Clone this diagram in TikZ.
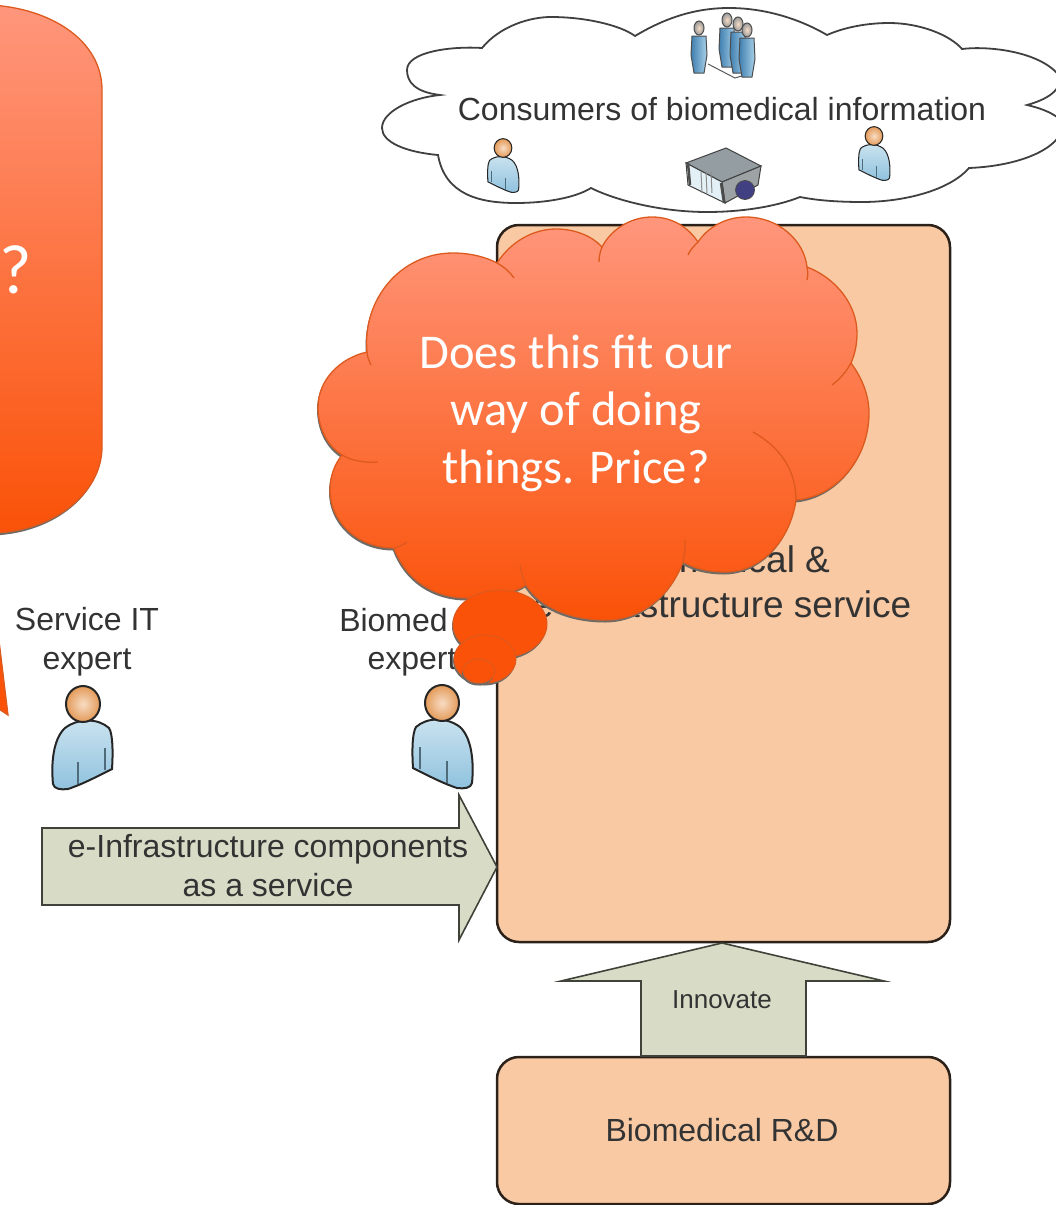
\documentclass[tikz,border=0pt]{standalone}
\usepackage{fontspec}
\setmainfont{Liberation Sans}
\newfontfamily\bubblefont{Carlito}
\usetikzlibrary{shadows}
\definecolor{boxfill}{HTML}{F8C9A3}
\definecolor{boxline}{HTML}{2B2119}
\definecolor{arrowfill}{HTML}{D8DCC6}
\definecolor{arrowline}{HTML}{3F4238}
\definecolor{inktext}{HTML}{333333}
\definecolor{bubbletop}{HTML}{FF967C}
\definecolor{bubblelow}{HTML}{FA5208}
\definecolor{bubbleline}{HTML}{DD5A1E}
\definecolor{shadowgrey}{HTML}{6E6A66}
\definecolor{bodylight}{HTML}{CBE3EF}
\definecolor{bodydark}{HTML}{8FC2DE}
\definecolor{figuredark}{HTML}{3F7FB0}
\definecolor{figurelight}{HTML}{A8D0E8}
\definecolor{headlight}{HTML}{F8DCC4}
\definecolor{headdark}{HTML}{E39A58}
\tikzset{
  labeltext/.style={font=\fontsize{32}{39}\selectfont, text=inktext, align=center, inner sep=0pt},
  bubbletext/.style={font=\bubblefont\fontsize{48.5}{57.5}\selectfont, text=white, align=center, inner sep=0pt},
  servicebox/.style={draw=boxline, line width=2.5pt, fill=boxfill, rounded corners=22pt, inner sep=0pt, outer sep=0pt, anchor=north west},
  blockarrow/.style={draw=arrowline, line width=1.6pt, fill=arrowfill, line join=miter},
  bubbleshadow/.style={drop shadow={shadow xshift=-1pt, shadow yshift=-2.5pt, opacity=1, fill=shadowgrey}},
  bubble/.style={draw=bubbleline, line width=1.3pt, top color=bubbletop, bottom color=bubblelow, bubbleshadow},
  bubblearc/.style={draw=bubbleline, line width=1.3pt},
  bubbledot/.style={draw=bubbleline, line width=1pt, fill=bubblelow, bubbleshadow},
}
% person icon: x, y of the head, xscale, scale
\newcommand{\personicon}[4]{
  \begin{scope}[shift={(#1,#2)}, xscale=#3*#4, yscale=#4, line width=#4*2pt, draw=black!85]
    \draw[top color=bodylight, bottom color=bodydark]
      (-30,80) .. controls (-32,60) and (-30,35) .. (-18,24) .. controls (-5,14) and (15,14) .. (26,24)
      .. controls (30,30) and (30,50) .. (29,65) .. controls (15,72) and (0,80) .. (-15,85)
      .. controls (-22,86) and (-29,85) .. (-30,80) -- cycle;
    \draw[bodydark!55!black, line width=#4*1.2pt] (-5,80) -- (-5,58);
    \draw[bodydark!55!black, line width=#4*1.2pt] (22,66) -- (22,44);
    \draw[inner color=headlight, outer color=headdark] (0,0) ellipse (17 and 18);
  \end{scope}
}
% small standing figure for the group
\newcommand{\figureicon}[3]{
  \begin{scope}[shift={(#1,#2)}, line width=1pt, draw=black!70]
    \draw[left color=figuredark, right color=figurelight] (-7,8) -- (7,8) -- (8,#3-18) -- (5,#3) -- (-5,#3) -- (-8,#3-18) -- cycle;
    \draw[inner color=headlight, outer color=black!40] (0,0) ellipse (5 and 7);
  \end{scope}
}
\begin{document}
\begin{tikzpicture}[x=1pt, y=-1pt]
\useasboundingbox (0,0) rectangle (1056,1205);
\clip (0,0) rectangle (1056,1205);
% Consumers cloud (top)
\draw[draw=black!75, line width=1.8pt, fill=white]
  (440,95) .. controls (415,92) and (407,82) .. (407,70) .. controls (407,52) and (450,46) .. (482,48)
  .. controls (500,26) and (530,17) .. (551,17) .. controls (585,17) and (620,25) .. (635,36)
  .. controls (665,18) and (695,8) .. (729,8) .. controls (770,8) and (805,22) .. (827,35)
  .. controls (845,27) and (868,23) .. (889,23) .. controls (920,23) and (950,35) .. (962,49)
  .. controls (985,46) and (1035,50) .. (1057,73) .. controls (1066,90) and (1045,100) .. (1027,105)
  .. controls (1040,108) and (1050,112) .. (1057,117) .. controls (1075,135) and (1040,165) .. (969,168)
  .. controls (950,190) and (905,202) .. (862,202) .. controls (835,202) and (815,200) .. (800,197)
  .. controls (775,207) and (740,212) .. (707,212) .. controls (660,212) and (615,200) .. (591,188)
  .. controls (575,198) and (545,203) .. (516,203) .. controls (480,203) and (445,195) .. (438,155)
  .. controls (405,152) and (382,142) .. (382,128) .. controls (382,112) and (410,98) .. (440,95) -- cycle;
\node[labeltext] (consumers) at (722,109) {Consumers of biomedical information};
\personicon{503}{148}{-1}{0.52}
\personicon{874}{136}{-1}{0.52}
% Group of people
\draw[black!65, line width=1pt] (708,64) -- (735,78) -- (748,74);
\figureicon{699}{28}{45}
\figureicon{727}{20}{47}
\figureicon{738}{24}{49}
\figureicon{747}{30}{47}
% Server
\draw[black!75, line width=1pt, fill=black!45!cyan!20!gray!85] (726,148) -- (761,166) -- (722,182) -- (686,163) -- cycle;
\draw[black!75, line width=1pt, fill=black!50!cyan!15!gray!80] (761,166) -- (758,185) -- (725,203) -- (722,182) -- cycle;
\draw[black!75, line width=1pt, fill=gray!45!cyan!15] (686,163) -- (722,182) -- (725,203) -- (688,185) -- cycle;
\draw[black!70, line width=2.5pt] (688,163) -- (690,185);
\draw[black!70, line width=2.5pt] (721,183) -- (724,203);
\foreach \px in {701,706,711}
  \draw[black!45, line width=1pt] (\px,172) -- (\px+1,193);
\draw[black!70, line width=0.8pt, fill=blue!35!black!75] (745,190) circle (9.5);

% Main box
\node[servicebox, minimum width=453pt, minimum height=717pt] (mainbox) at (497,225) {};
\node[labeltext, font=\fontsize{37}{45}\selectfont] (maintext) at (722,582) {Biomedical \&\\e-Infrastructure service};

% Lower box
\node[servicebox, minimum width=453pt, minimum height=147pt] (rdbox) at (497,1057) {};
\node[labeltext] (rdtext) at (722,1130) {Biomedical R\&D};

% Innovate arrow
\draw[blockarrow] (641,1056) -- (641,981) -- (561,981) -- (722,943) -- (884,981) -- (806,981) -- (806,1056) -- cycle;
\node[labeltext, font=\fontsize{26}{30}\selectfont] (innovate) at (722,1000) {Innovate};

% Components arrow
\draw[blockarrow] (42,828) -- (459,828) -- (459,795) -- (497,867) -- (459,940) -- (459,905) -- (42,905) -- cycle;
\node[labeltext] (components) at (268,866) {e-Infrastructure components\\as a service};

% Experts
\node[labeltext] (servicelabel) at (87,642) {Service IT\\expert};
\personicon{83}{704}{1}{1}
\node[labeltext, anchor=base] (biomedlabel) at (393.5,631) {Biomed};
\node[labeltext, anchor=base] (expertlabel) at (412,669) {expert};
\personicon{442}{703}{-1}{1}

% Left callout
\draw[draw=bubbleline, line width=1.3pt, fill=bubblelow] (-15,525) -- (8,715) -- (-30,690) -- cycle;
\draw[bubble] (-100,5) -- (-10,5) .. controls (50,8) and (102,40) .. (102,90) -- (102,447)
  .. controls (102,495) and (50,533) .. (-10,533) -- (-100,533) -- cycle;
\node[bubbletext, anchor=west, font=\bubblefont\fontsize{70}{70}\selectfont] (callouttext) at (-1,270) {?};

% Thought bubble
\draw[bubble]
  (342,455) .. controls (326,445) and (318,426) .. (318,407) .. controls (318,380) and (340,358) .. (367,352)
  .. controls (362,300) and (400,253) .. (453,253) .. controls (470,253) and (486,257) .. (497,263)
  .. controls (512,240) and (535,229) .. (556,229) .. controls (575,229) and (592,236) .. (602,247)
  .. controls (612,228) and (632,217) .. (652,217) .. controls (672,217) and (688,227) .. (698,242)
  .. controls (708,227) and (726,217) .. (746,217) .. controls (778,217) and (804,240) .. (807,267)
  .. controls (836,278) and (857,305) .. (857,333) .. controls (857,344) and (855,354) .. (851,363)
  .. controls (862,378) and (869,395) .. (869,413) .. controls (869,460) and (835,497) .. (796,500)
  .. controls (790,542) and (760,572) .. (725,572) .. controls (710,572) and (695,569) .. (683,562)
  .. controls (670,597) and (640,620) .. (606,620) .. controls (570,620) and (540,607) .. (526,585)
  .. controls (510,595) and (488,598) .. (468,598) .. controls (432,598) and (405,578) .. (394,548)
  .. controls (358,548) and (330,522) .. (330,490) .. controls (330,477) and (334,465) .. (342,455) -- cycle;
% inner arcs of the bubble
\draw[bubblearc] (342,455) .. controls (352,461) and (365,463) .. (378,462);
\draw[bubblearc] (367,352) .. controls (367,356) and (369,361) .. (371,365);
\draw[bubblearc] (497,263) .. controls (504,267) and (510,272) .. (514,278);
\draw[bubblearc] (602,247) .. controls (600,252) and (599,257) .. (599,262);
\draw[bubblearc] (698,242) .. controls (694,246) and (690,250) .. (688,255);
\draw[bubblearc] (807,267) .. controls (808,272) and (808,276) .. (807,280);
\draw[bubblearc] (851,363) .. controls (846,372) and (840,379) .. (832,385);
\draw[bubblearc] (753,432) .. controls (780,447) and (796,470) .. (796,500);
\draw[bubblearc] (683,562) .. controls (685,555) and (685,547) .. (685,540);
\draw[bubblearc] (526,585) .. controls (523,578) and (521,572) .. (520,565);
\draw[bubblearc] (394,548) .. controls (399,547) and (403,545) .. (407,542);
\node[bubbletext] (bubblelabel) at (576,413) {Does this fit our\\way of doing\\things. Price?};

% Tail of the thought
\draw[bubbledot] (500,624) ellipse (47 and 34);
\draw[bubbledot] (485,659) ellipse (31 and 24);
\draw[bubbledot, drop shadow={opacity=0}] (479,671) ellipse (16 and 12);
\end{tikzpicture}
\end{document}
